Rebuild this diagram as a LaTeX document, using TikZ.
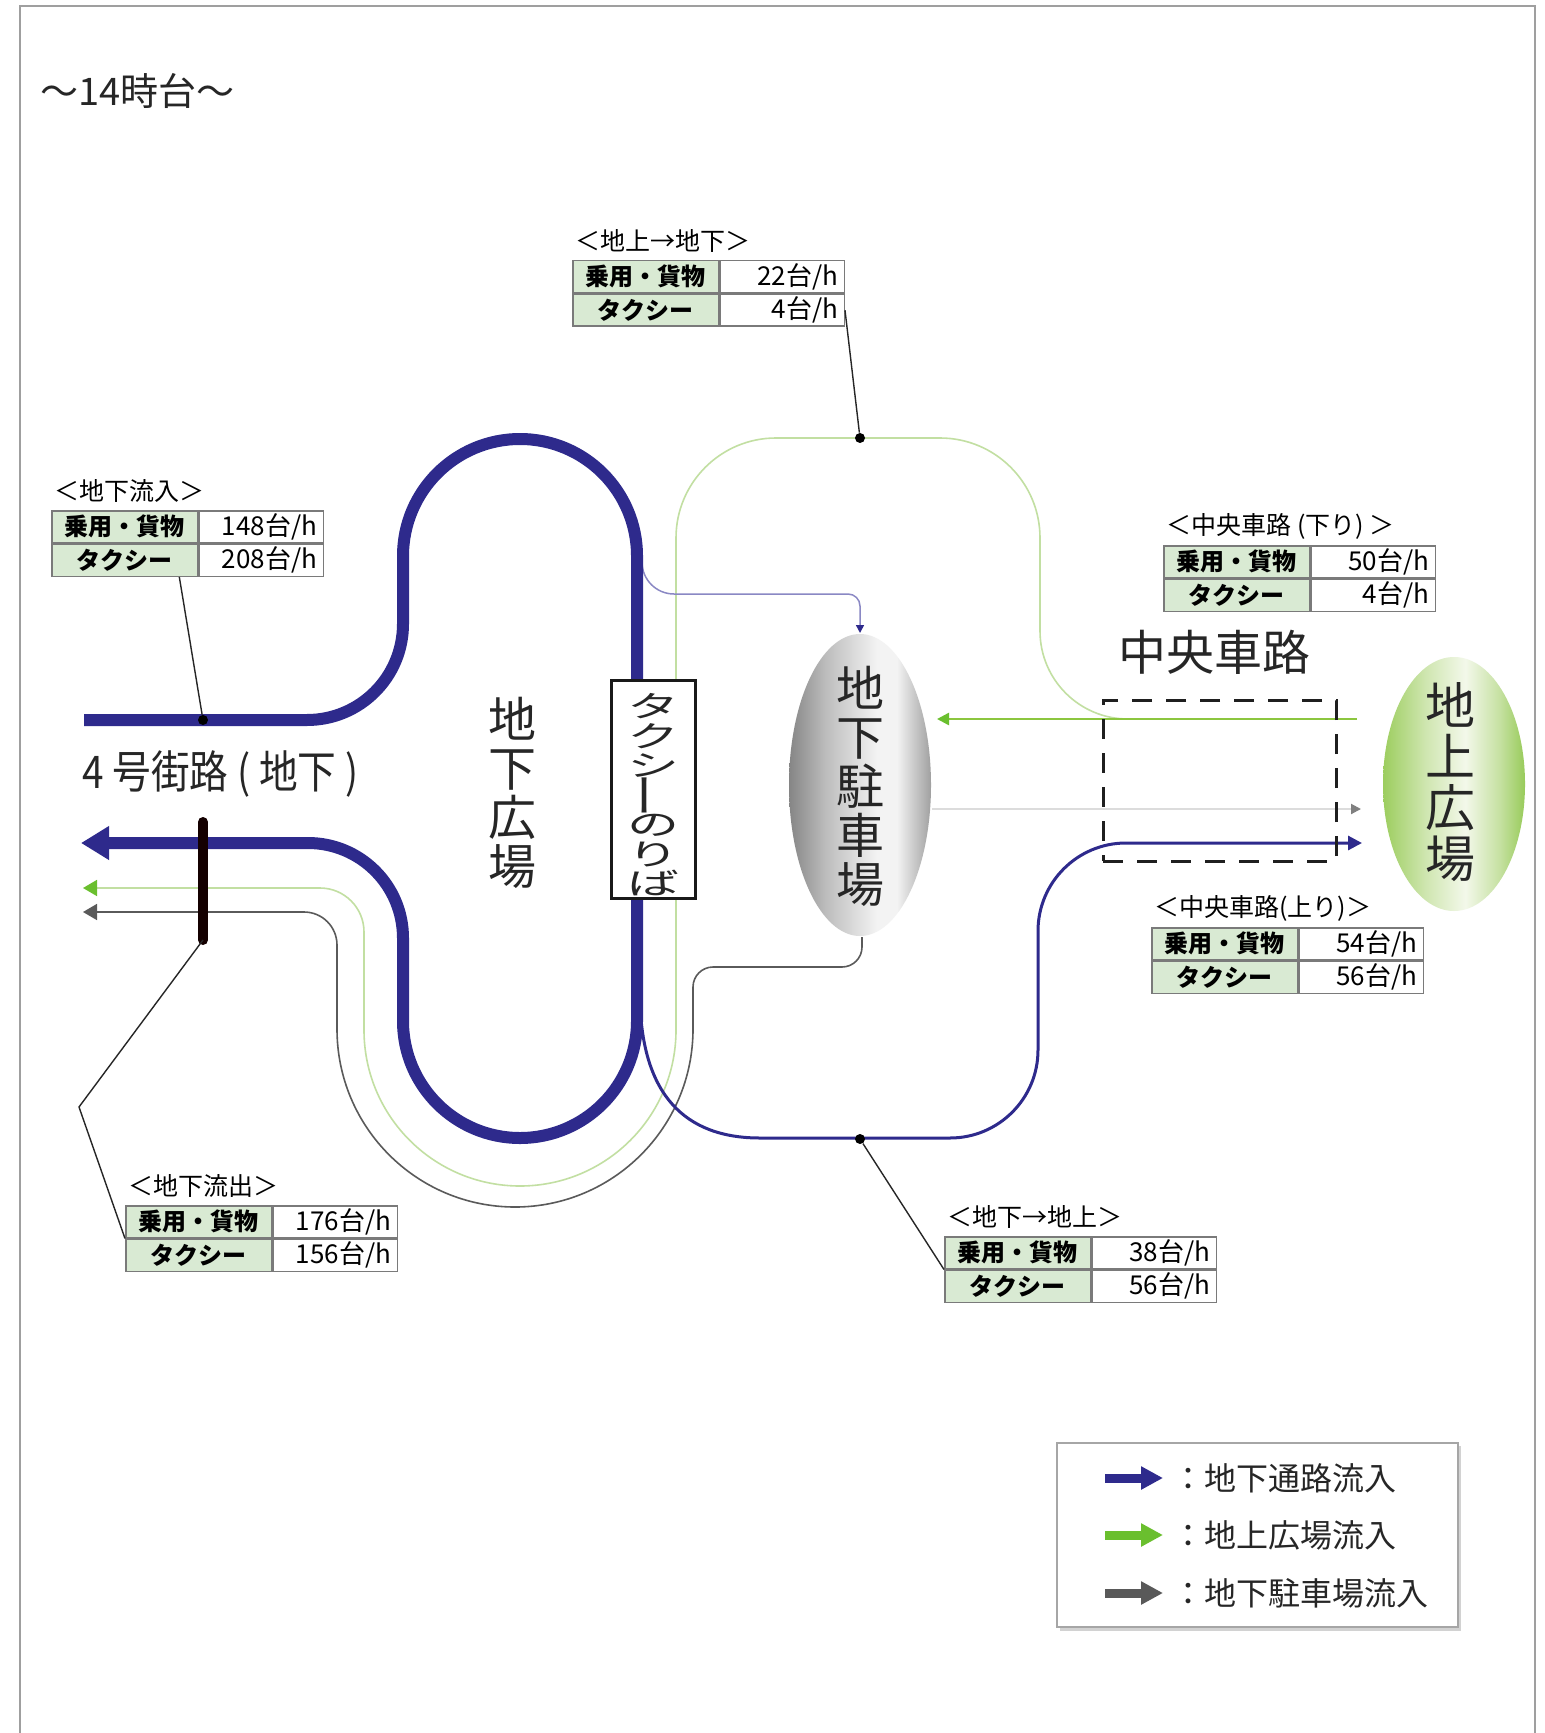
\documentclass[tikz,border=0pt]{standalone}
\usepackage{fontspec}
\usepackage{graphicx}
\setmainfont{Noto Sans CJK JP}
\newfontfamily\narrowfont{Noto Sans CJK JP}[FakeStretch=0.86]
\usetikzlibrary{arrows.meta,shapes.geometric,calc}
\lineskiplimit=-100pt
\lineskip=0pt
\definecolor{fblue}{HTML}{2E2A8C}
\definecolor{flav}{HTML}{8A88C4}
\definecolor{fgreen}{HTML}{8CC63F}
\definecolor{garrow}{HTML}{6ABF2E}
\definecolor{fgreenpale}{HTML}{C2DFA2}
\definecolor{fgray}{HTML}{5A5A5A}
\definecolor{lightline}{HTML}{DCDCDC}
\definecolor{cellgreen}{HTML}{D9EAD3}
\definecolor{tborder}{HTML}{7A7A7A}
\definecolor{parkA}{HTML}{858585}
\definecolor{parkB}{HTML}{BDBDBD}
\definecolor{parkC}{HTML}{F3F3F3}
\definecolor{parkD}{HTML}{A0A0A0}
\definecolor{gA}{HTML}{9CCD5E}
\definecolor{gB}{HTML}{CFE6B0}
\definecolor{gC}{HTML}{F3F8EA}
\definecolor{gD}{HTML}{C6E1A2}
\definecolor{gE}{HTML}{98CB5A}
\pgfdeclarehorizontalshading{parkshade}{100bp}{color(0bp)=(parkA); color(25bp)=(parkA); color(38bp)=(parkB); color(56bp)=(parkC); color(63bp)=(parkC); color(75bp)=(parkD); color(100bp)=(parkD)}
\pgfdeclarehorizontalshading{plazashade}{100bp}{color(0bp)=(gA); color(25bp)=(gA); color(40bp)=(gB); color(54bp)=(gC); color(66bp)=(gD); color(75bp)=(gE); color(100bp)=(gE)}
\newcommand{\tx}[1]{\scalebox{1}[0.57]{#1}}
\tikzset{
  bthick/.style={draw=fblue, line width=6pt, -{Triangle[length=14pt,width=16pt]}},
  glthin/.style={draw=fgreenpale, line width=0.8pt, -{Triangle[length=7pt,width=8pt,color=garrow]}},
  grthin/.style={draw=fgray, line width=0.8pt, -{Triangle[length=7pt,width=8pt]}},
  bpark/.style={draw=flav, line width=0.75pt, -{Triangle[length=4pt,width=4pt,color=fblue]}},
  bmed/.style={draw=fblue, line width=1.5pt, -{Triangle[length=7pt,width=7pt]}},
  ghor/.style={draw=fgreen, line width=1.25pt, -{Triangle[length=6pt,width=6pt,color=garrow]}},
  lgray/.style={draw=lightline, line width=1pt, -{Triangle[length=5pt,width=5pt,color=gray]}},
  leader/.style={draw=black!85, line width=0.7pt},
  dot/.style={circle, fill=black, inner sep=0pt, minimum size=5pt},
  vlabel/.style={align=center, inner sep=0pt, text=black!85},
  hlabel/.style={inner sep=0pt, text=black!85},
  tlabel/.style={inner sep=0pt, font=\fontsize{12.5}{12.5}\selectfont},
  lcell/.style={draw=tborder, line width=0.75pt, fill=cellgreen, minimum width=73pt, minimum height=16pt, inner sep=0pt, font=\bfseries\fontsize{12}{12}\selectfont},
  rcell/.style={draw=tborder, line width=0.75pt, fill=white, minimum height=16pt, text width=56pt, inner xsep=3pt, inner ysep=0pt, align=right, font=\fontsize{13}{13}\selectfont},
  legarrow/.style={line width=4.5pt, -{Triangle[length=11pt,width=11pt]}},
}
\newcommand{\flowtable}[6]{%
  \node[tlabel, anchor=west] (#1-l) at (#2+3,#3-19) {#4};
  \node[lcell, anchor=north west] (#1-a) at (#2,#3) {乗用・貨物};
  \node[rcell, anchor=north west] (#1-b) at (#1-a.north east) {#5};
  \node[lcell, anchor=north west] (#1-c) at (#1-a.south west) {タクシー};
  \node[rcell, anchor=north west] (#1-d) at (#1-c.north east) {#6};
}
\begin{document}
\begin{tikzpicture}[x=0.5pt,y=-0.5pt]
\useasboundingbox (0,0) rectangle (1544,1733);
\fill[white] (0,0) rectangle (1544,1733);
% frame
\draw[gray!75, line width=1pt] (20,1733) -- (20,6) -- (1535,6) -- (1535,1733);
% title
\node[hlabel, anchor=west, font=\fontsize{19}{19}\selectfont] (title) at (40,91) {～14時台～};

% coordinates
\coordinate (inL) at (84,720);
\coordinate (outL) at (81,843);
\coordinate (gjn) at (1128,719);
\coordinate (gout) at (83,888);
\coordinate (gstart) at (1357,719);
\coordinate (gend) at (937,719);
\coordinate (pbot) at (862,937);
\coordinate (grout) at (83,912);
\coordinate (bsplit) at (642,562);
\coordinate (ptop) at (860,633);
\coordinate (bsplit2) at (640,1000);
\coordinate (bend) at (1362,843);
\coordinate (lgs) at (932,809);
\coordinate (lge) at (1361,809);

% thin flows
\draw[glthin] (gjn) arc[start angle=90,end angle=180,radius=88]
  -- (1040,538) arc[start angle=0,end angle=-90,radius=100]
  -- (776,438) arc[start angle=-90,end angle=-180,radius=100]
  -- (676,1030) arc[start angle=0,end angle=180,radius=156]
  -- (364,932) arc[start angle=0,end angle=-90,radius=44]
  -- (gout);
\draw[grthin] (pbot) -- (862,947) arc[start angle=0,end angle=90,radius=20]
  -- (713,967) arc[start angle=-90,end angle=-180,radius=20]
  -- (693,1029) arc[start angle=0,end angle=180,radius=178]
  -- (337,945) arc[start angle=0,end angle=-90,radius=33]
  -- (grout);
\draw[bpark] (bsplit) arc[start angle=180,end angle=90,radius=32]
  -- (848,594) arc[start angle=-90,end angle=0,radius=12]
  -- (ptop);
\draw[bmed] (bsplit2) .. controls (642,1095) and (685,1138) .. (760,1138)
  -- (950,1138) arc[start angle=90,end angle=0,radius=88]
  -- (1038,931) arc[start angle=180,end angle=270,radius=88]
  -- (bend);
\draw[ghor] (gstart) -- (gend);
\draw[lgray] (lgs) -- (lge);

% thick blue
\draw[bthick] (inL) -- (307,720) arc[start angle=90,end angle=0,radius=96]
  -- (403,556) arc[start angle=180,end angle=360,radius=117]
  -- (637,1021) arc[start angle=0,end angle=180,radius=117]
  -- (403,938) arc[start angle=0,end angle=-90,radius=95]
  -- (outL);

% ellipses
\node[ellipse, shading=parkshade, minimum width=71pt, minimum height=151pt, inner sep=0pt] (park) at (860,785) {};
\node[ellipse, shading=plazashade, minimum width=71pt, minimum height=127pt, inner sep=0pt] (plaza) at (1454,784) {};
\node[vlabel, font=\fontsize{24}{24.5}\selectfont] (parktxt) at (860,786) {地\\下\\駐\\車\\場};
\node[vlabel, font=\fontsize{25}{25.5}\selectfont] (plazatxt) at (1450,782) {地\\上\\広\\場};

% taxi box
\node[draw=black!90, line width=1.5pt, fill=white, minimum width=42pt, minimum height=109pt, inner sep=0pt] (taxi) at (653.5,789) {};
\node[vlabel, font=\fontsize{26}{14.75}\selectfont] (taxitxt) at (653,795) {\tx{タ}\\\tx{ク}\\\tx{シ}\\\rotatebox[origin=c]{90}{\scalebox{0.85}[1]{ー}}\\\tx{の}\\\tx{り}\\\tx{ば}};

% labels
\node[vlabel, font=\fontsize{24}{24.5}\selectfont] (ugplaza) at (512,793) {地\\下\\広\\場};
\node[hlabel, font=\fontsize{24}{24}\selectfont] (central) at (1214,652) {中央車路};
\node[hlabel, anchor=west, font=\narrowfont\fontsize{22.5}{22.5}\selectfont] (road4) at (82,774) {4 号街路 ( 地下 )};

% dashed box
\node[draw=black!88, line width=1.5pt, dash pattern=on 10pt off 7pt, minimum width=116.5pt, minimum height=80.5pt, inner sep=0pt] (cbox) at (1219.5,780.5) {};

% bar
\coordinate (barT) at (203,822);
\coordinate (barB) at (203,940);
\draw[line width=5pt, line cap=round, draw=black!92!red] (barT) -- (barB);

% dots
\node[dot] (d1) at (860,438) {};
\node[dot] (d2) at (203,720) {};
\node[dot] (d3) at (860,1139) {};

% tables
\flowtable{t1}{572}{260}{＜地上→地下＞}{22台/h}{4台/h}
\flowtable{t2}{51}{510}{＜地下流入＞}{148台/h}{208台/h}
\flowtable{t3}{1163}{545}{＜中央車路 (下り) ＞}{50台/h}{4台/h}
\flowtable{t4}{1151}{927}{＜中央車路(上り)＞}{54台/h}{56台/h}
\flowtable{t5}{125}{1205}{＜地下流出＞}{176台/h}{156台/h}
\flowtable{t6}{944}{1236}{＜地下→地上＞}{38台/h}{56台/h}

% leaders
\draw[leader] (t1-d.east) -- (d1);
\draw[leader] ($(t2-c.south west)!0.87!(t2-c.south east)$) -- (d2);
\coordinate (lk) at (79,1107);
\draw[leader] (barB) -- (lk) -- (t5-a.south west);
\draw[leader] (d3) -- (t6-a.south west);

% legend
\fill[gray!35] (1060,1446) rectangle (1461,1631);
\node[draw=gray!70, line width=0.75pt, fill=white, minimum width=200.5pt, minimum height=92pt, inner sep=0pt] (leg) at (1257.5,1535) {};
\coordinate (la1) at (1105,1478); \coordinate (lb1) at (1163,1478);
\coordinate (la2) at (1105,1535); \coordinate (lb2) at (1163,1535);
\coordinate (la3) at (1105,1593); \coordinate (lb3) at (1163,1593);
\draw[legarrow, draw=fblue, fill=fblue] (la1) -- (lb1);
\draw[legarrow, draw=garrow, fill=garrow] (la2) -- (lb2);
\draw[legarrow, draw=black!65, fill=black!65] (la3) -- (lb3);
\node[hlabel, anchor=west, font=\fontsize{16}{16}\selectfont] (lt1) at (1172,1478) {：地下通路流入};
\node[hlabel, anchor=west, font=\fontsize{16}{16}\selectfont] (lt2) at (1172,1535) {：地上広場流入};
\node[hlabel, anchor=west, font=\fontsize{16}{16}\selectfont] (lt3) at (1172,1593) {：地下駐車場流入};
\end{tikzpicture}
\end{document}
